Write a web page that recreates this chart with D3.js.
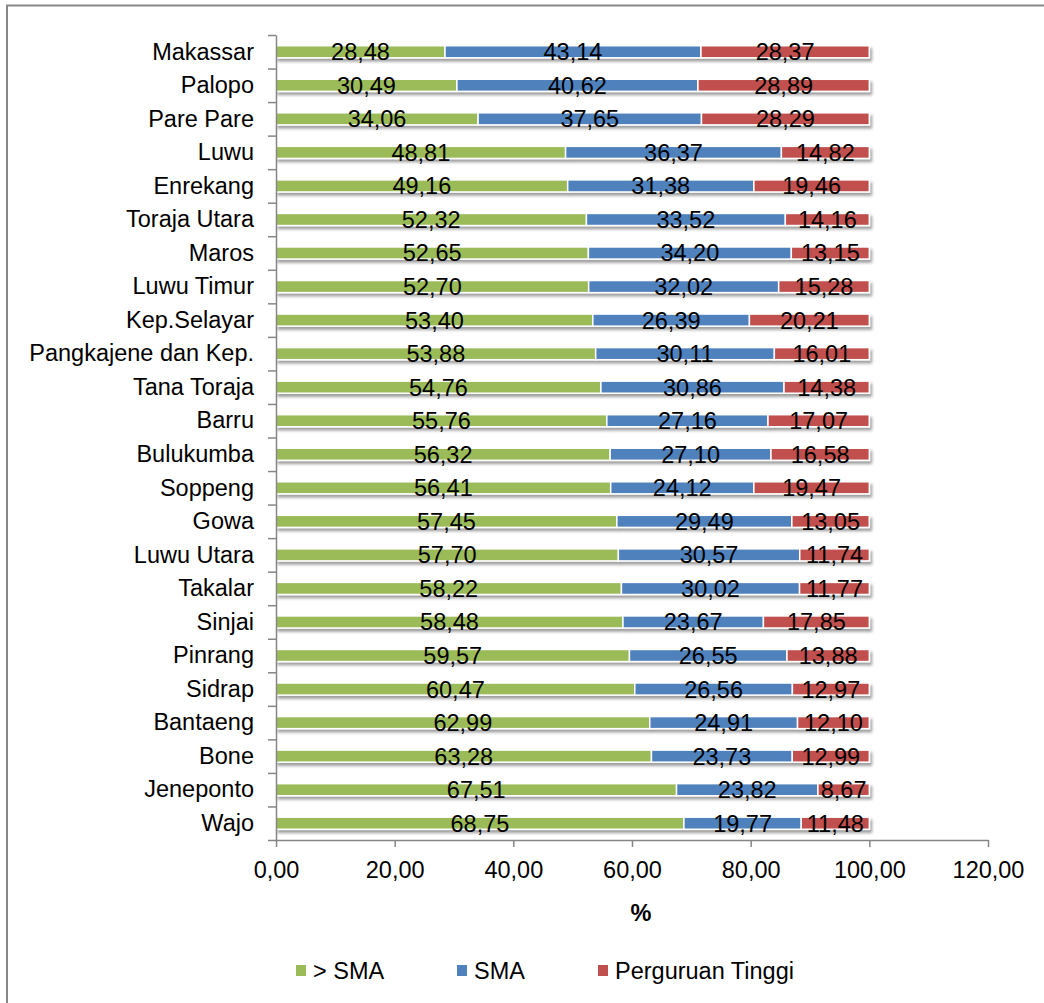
<!DOCTYPE html>
<html>
<head>
<meta charset="utf-8">
<script src="https://cdn.jsdelivr.net/npm/d3@7"></script>
<style>
  html, body { margin: 0; padding: 0; background: #fff; }
  svg { display: block; font-family: "Liberation Sans", Arial, sans-serif; }
</style>
</head>
<body>
<svg id="chart" width="1044" height="1003"></svg>
<script>
// Regencies / cities (top to bottom)
const categories = [
  "Makassar", "Palopo", "Pare Pare", "Luwu", "Enrekang", "Toraja Utara",
  "Maros", "Luwu Timur", "Kep.Selayar", "Pangkajene dan Kep.", "Tana Toraja",
  "Barru", "Bulukumba", "Soppeng", "Gowa", "Luwu Utara", "Takalar", "Sinjai",
  "Pinrang", "Sidrap", "Bantaeng", "Bone", "Jeneponto", "Wajo"
];

// Share (%) per education level
const belowSMA = [
  28.48, 30.49, 34.06, 48.81, 49.16, 52.32, 52.65, 52.70, 53.40, 53.88, 54.76,
  55.76, 56.32, 56.41, 57.45, 57.70, 58.22, 58.48, 59.57, 60.47, 62.99, 63.28,
  67.51, 68.75
];
const sma = [
  43.14, 40.62, 37.65, 36.37, 31.38, 33.52, 34.20, 32.02, 26.39, 30.11, 30.86,
  27.16, 27.10, 24.12, 29.49, 30.57, 30.02, 23.67, 26.55, 26.56, 24.91, 23.73,
  23.82, 19.77
];
const perguruanTinggi = [
  28.37, 28.89, 28.29, 14.82, 19.46, 14.16, 13.15, 15.28, 20.21, 16.01, 14.38,
  17.07, 16.58, 19.47, 13.05, 11.74, 11.77, 17.85, 13.88, 12.97, 12.10, 12.99,
  8.67, 11.48
];

const seriesNames = ["> SMA", "SMA", "Perguruan Tinggi"];
const seriesColors = ["#9BBB59", "#4F81BD", "#C0504D"];
const xTicks = [0, 20, 40, 60, 80, 100, 120];
const axisTitle = "%";

const rows = categories.map((c, i) => ({
  name: c, v0: belowSMA[i], v1: sma[i], v2: perguruanTinggi[i]
}));

const svg = d3.select("#chart");
const fontSize = 23.5;
const axisColor = "#868686";

// Outer chart frame
svg.append("rect")
  .attr("x", 7).attr("y", 5.5)
  .attr("width", 1060).attr("height", 1020)
  .attr("fill", "none").attr("stroke", "#878787").attr("stroke-width", 2);

// Soft drop shadow for bars
const defs = svg.append("defs");
const f = defs.append("filter").attr("id", "barShadow")
  .attr("x", "-5%").attr("y", "-50%").attr("width", "115%").attr("height", "250%");
f.append("feDropShadow").attr("dx", 2).attr("dy", 3).attr("stdDeviation", 1.6)
  .attr("flood-color", "#000").attr("flood-opacity", 0.38);

const plotLeft = 276, plotRight = 988, plotTop = 35, plotBottom = 840;

const x = d3.scaleLinear().domain([0, 120]).range([plotLeft, plotRight]);
const y = d3.scaleBand().domain(categories).range([plotTop, plotBottom])
  .paddingInner(0.64).paddingOuter(0.32);

const stack = d3.stack().keys(["v0", "v1", "v2"]);
const stacked = stack(rows);

const fmt = v => d3.format(".2f")(v).replace(".", ",");

// Bars
const rowG = svg.append("g").selectAll("g.row")
  .data(rows).join("g").attr("class", "row")
  .attr("filter", "url(#barShadow)");

rowG.selectAll("rect")
  .data((d, i) => stacked.map((s, k) => ({ k, seg: s[i], name: d.name })))
  .join("rect")
  .attr("x", d => x(d.seg[0]))
  .attr("y", d => y(d.name))
  .attr("width", d => x(d.seg[1]) - x(d.seg[0]))
  .attr("height", y.bandwidth())
  .attr("fill", d => seriesColors[d.k])
  .attr("stroke", "#fff").attr("stroke-width", 1.5);

// Y axis: line and boundary ticks
const yIdx = d3.scaleLinear().domain([0, categories.length]).range([plotTop, plotBottom]);
const yAxisG = svg.append("g").attr("transform", `translate(${plotLeft},0)`)
  .call(d3.axisLeft(yIdx).tickValues(d3.range(categories.length + 1))
    .tickFormat("").tickSize(8).tickSizeOuter(0));
yAxisG.selectAll("path, line").attr("stroke", axisColor).attr("stroke-width", 1.5);

// Category labels
svg.append("g").selectAll("text")
  .data(categories).join("text")
  .attr("x", 254)
  .attr("y", d => y(d) + y.bandwidth() / 2)
  .attr("dy", "0.33em")
  .attr("text-anchor", "end")
  .attr("font-size", fontSize)
  .attr("fill", "#000")
  .text(d => d);

// X axis
const xAxisG = svg.append("g").attr("transform", `translate(0,${plotBottom})`)
  .call(d3.axisBottom(x).tickValues(xTicks).tickFormat(fmt).tickSize(7).tickSizeOuter(0));
xAxisG.selectAll("path, line").attr("stroke", axisColor).attr("stroke-width", 1.5);
xAxisG.selectAll("text")
  .attr("y", 38).attr("dy", 0)
  .attr("font-size", fontSize)
  .attr("font-family", "Liberation Sans, Arial, sans-serif")
  .attr("fill", "#000");

// Value labels centred in each segment
const seriesValues = [belowSMA, sma, perguruanTinggi];
const labelData = [];
stacked.forEach((s, k) => s.forEach((seg, i) => {
  labelData.push({ name: categories[i], mid: (seg[0] + seg[1]) / 2, v: seriesValues[k][i] });
}));
svg.append("g").selectAll("text")
  .data(labelData).join("text")
  .attr("x", d => x(d.mid))
  .attr("y", d => y(d.name) + y.bandwidth() / 2)
  .attr("dy", "0.36em")
  .attr("text-anchor", "middle")
  .attr("font-size", fontSize)
  .attr("fill", "#000")
  .text(d => fmt(d.v));

// Axis title
svg.append("text")
  .attr("x", 641).attr("y", 921)
  .attr("text-anchor", "middle")
  .attr("font-size", fontSize)
  .attr("font-weight", "bold")
  .attr("fill", "#000")
  .text(axisTitle);

// Legend
const legendX = [296, 457, 598];
const legend = svg.append("g").selectAll("g")
  .data(seriesNames).join("g")
  .attr("transform", (d, i) => `translate(${legendX[i]},965)`);
legend.append("rect")
  .attr("width", 10).attr("height", 11)
  .attr("fill", (d, i) => seriesColors[i]);
legend.append("text")
  .attr("x", 17).attr("y", 14)
  .attr("font-size", fontSize)
  .attr("fill", "#000")
  .text(d => d);
</script>
</body>
</html>
